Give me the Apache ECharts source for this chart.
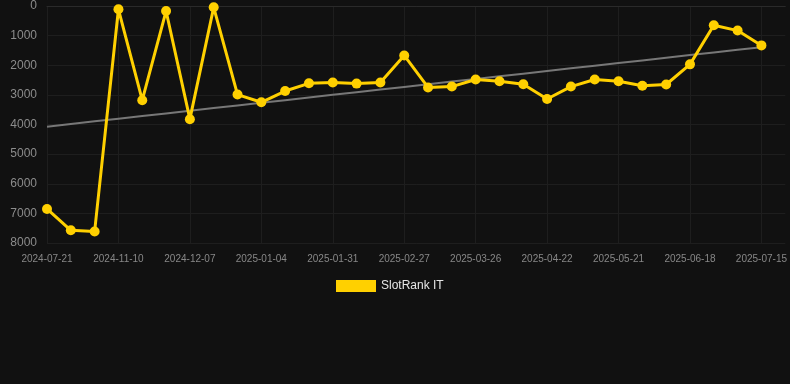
<!DOCTYPE html>
<html>
<head>
<meta charset="utf-8">
<script src="https://cdn.jsdelivr.net/npm/echarts@6/dist/echarts.min.js"></script>
<style>
	html, body { margin: 0; padding: 0; background: #111111; }
	#chart { width: 790px; height: 384px; }
</style>
</head>
<body>
<div id="chart"></div>
<script>
// categories (only every 3rd date is labelled on the chart)
var dates = [
	'2024-07-21', '2024-10-23', '2024-11-01', '2024-11-10', '2024-11-19', '2024-11-28',
	'2024-12-07', '2024-12-16', '2024-12-25', '2025-01-04', '2025-01-13', '2025-01-22',
	'2025-01-31', '2025-02-09', '2025-02-18', '2025-02-27', '2025-03-08', '2025-03-17',
	'2025-03-26', '2025-04-04', '2025-04-13', '2025-04-22', '2025-05-01', '2025-05-11',
	'2025-05-21', '2025-05-30', '2025-06-09', '2025-06-18', '2025-06-27', '2025-07-06',
	'2025-07-15'
];
// rank values
var rankIT = [
	6850, 7570, 7610, 110, 3180, 170, 3820, 45, 2990, 3250,
	2870, 2610, 2580, 2620, 2580, 1670, 2750, 2720, 2480, 2540,
	2640, 3140, 2720, 2480, 2540, 2690, 2650, 1970, 650, 830,
	1330
];
var yTicks = [0, 1000, 2000, 3000, 4000, 5000, 6000, 7000, 8000];

// linear trend from the data
function trendOf(values) {
	var n = values.length, sx = 0, sy = 0, sxy = 0, sxx = 0;
	for (var i = 0; i < n; i++) {
		sx += i; sy += values[i]; sxy += i * values[i]; sxx += i * i;
	}
	var slope = (n * sxy - sx * sy) / (n * sxx - sx * sx);
	var b = (sy - slope * sx) / n;
	var out = [];
	for (var j = 0; j < n; j++) out.push(+(b + slope * j).toFixed(1));
	return out;
}

var chart = echarts.init(document.getElementById('chart'));
var option = {
	backgroundColor: '#111111',
	animation: false,
	grid: { left: 47, right: 0, top: 6, bottom: 141 },
	legend: {
		data: ['SlotRank IT'],
		left: 331,
		bottom: 87,
		itemWidth: 40,
		itemHeight: 12,
		itemGap: 6,
		icon: 'rect',
		textStyle: { color: '#e6e6e6', fontSize: 12, fontFamily: 'Liberation Sans, Arial' }
	},
	xAxis: {
		type: 'category',
		boundaryGap: false,
		data: dates.concat(['']),
		axisLine: { show: true, lineStyle: { color: '#2a2a2a' } },
		axisTick: { show: false },
		axisLabel: {
			interval: 2,
			color: '#888888',
			fontSize: 10,
			margin: 11,
			fontFamily: 'Liberation Sans, Arial'
		},
		splitLine: { show: true, interval: 2, lineStyle: { color: '#1e1e1e' } }
	},
	yAxis: {
		type: 'value',
		inverse: true,
		min: yTicks[0],
		max: yTicks[yTicks.length - 1],
		interval: 1000,
		axisLine: { show: false },
		axisTick: { show: false },
		axisLabel: {
			color: '#8c8c8c',
			fontSize: 12,
			margin: 10,
			fontFamily: 'Liberation Sans, Arial',
			formatter: function (v) { return String(v); }
		},
		splitLine: { lineStyle: { color: '#1e1e1e' } }
	},
	series: [
		{
			name: 'SlotRank IT',
			type: 'line',
			data: rankIT,
			symbol: 'circle',
			symbolSize: 10,
			itemStyle: { color: '#FFD000' },
			lineStyle: { color: '#FFD000', width: 3 },
			z: 3
		},
		{
			name: 'trend',
			type: 'line',
			data: trendOf(rankIT),
			symbol: 'none',
			silent: true,
			lineStyle: { color: '#777777', width: 2 },
			z: 2
		}
	]
};
chart.setOption(option);
</script>
</body>
</html>
